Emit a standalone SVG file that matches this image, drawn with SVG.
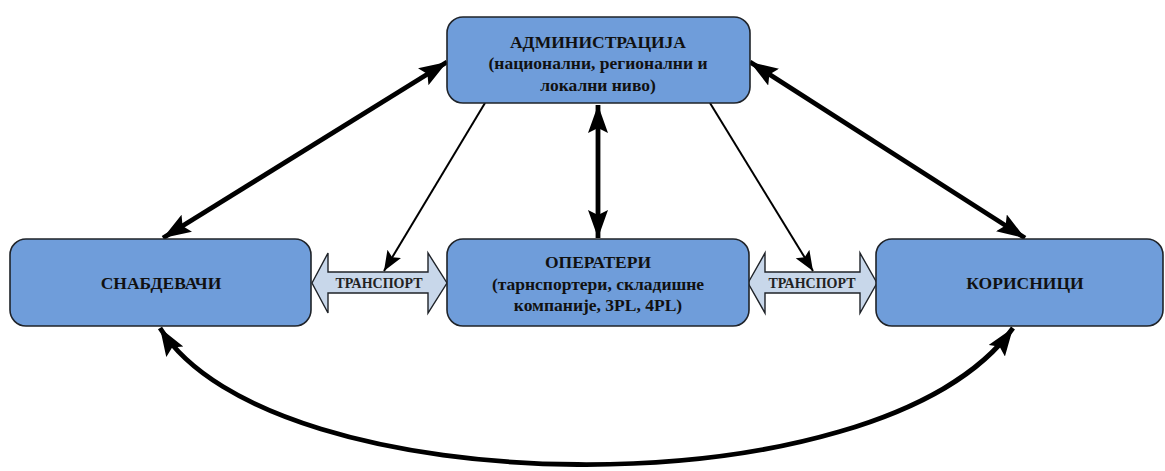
<svg xmlns="http://www.w3.org/2000/svg" width="1165" height="471" viewBox="0 0 1165 471">
  <style>
    .box { fill: #6f9dda; stroke: #1f2329; stroke-width: 1.6; }
    .lbl { font-family: "Liberation Serif", "Times New Roman", serif; font-weight: bold; font-size: 17.5px; fill: #111; text-anchor: middle; }
    .tr { fill: #c8d7ea; stroke: #1f2329; stroke-width: 1.4; }
    .trl { font-family: "Liberation Serif", "Times New Roman", serif; font-weight: bold; font-size: 14px; fill: #222; text-anchor: middle; }
    .thick { fill: none; stroke: #000; stroke-width: 4.8; }
    .thin { fill: none; stroke: #000; stroke-width: 2; }
  </style>
  <defs>
    <marker id="headBig" markerUnits="userSpaceOnUse" markerWidth="30" markerHeight="22" refX="28" refY="10" orient="auto-start-reverse" viewBox="0 0 30 22">
      <path d="M0,0 L28,10 L0,20 L5,10 Z" fill="#000"/>
    </marker>
    <marker id="headSmall" markerUnits="userSpaceOnUse" markerWidth="22" markerHeight="18" refX="20" refY="8" orient="auto" viewBox="0 0 22 18">
      <path d="M0,0 L20,8 L0,16 L4,8 Z" fill="#000"/>
    </marker>
  </defs>

  <!-- transport links (block double arrows) -->
  <g id="transport-left">
    <path class="tr" d="M312,283 L328,253 L328,272 L428,272 L428,253 L447,283 L428,313 L428,293 L328,293 L328,313 Z"/>
    <text class="trl" x="379" y="287.5">ТРАНСПОРТ</text>
  </g>
  <g id="transport-right">
    <path class="tr" d="M748,283 L765,253 L765,272 L860,272 L860,253 L877,283 L860,313 L860,293 L765,293 L765,313 Z"/>
    <text class="trl" x="812" y="287.5">ТРАНСПОРТ</text>
  </g>

  <!-- connectors -->
  <g id="connectors">
    <line class="thick" x1="447" y1="62" x2="163" y2="238" marker-start="url(#headBig)" marker-end="url(#headBig)"/>
    <line class="thick" x1="750" y1="62" x2="1025" y2="238" marker-start="url(#headBig)" marker-end="url(#headBig)"/>
    <line class="thick" x1="598" y1="105" x2="598" y2="238" marker-start="url(#headBig)" marker-end="url(#headBig)"/>
    <line class="thin" x1="485" y1="103" x2="384" y2="271" marker-end="url(#headSmall)"/>
    <line class="thin" x1="710" y1="103" x2="813" y2="271" marker-end="url(#headSmall)"/>
    <path class="thick" d="M160,328 C270,505 880,515 1013,328" marker-start="url(#headBig)" marker-end="url(#headBig)"/>
  </g>

  <g id="administracija">
    <rect class="box" x="447" y="17" width="303" height="86" rx="16"/>
    <text class="lbl" x="598" y="48">АДМИНИСТРАЦИЈА</text>
    <text class="lbl" x="598" y="69">(национални, регионални и</text>
    <text class="lbl" x="598" y="91">локални ниво)</text>
  </g>

  <g id="snabdevaci">
    <rect class="box" x="10" y="239" width="301" height="87" rx="16"/>
    <text class="lbl" x="161" y="289">СНАБДЕВАЧИ</text>
  </g>

  <g id="operateri">
    <rect class="box" x="447" y="239" width="302" height="87" rx="16"/>
    <text class="lbl" x="598" y="268">ОПЕРАТЕРИ</text>
    <text class="lbl" x="598" y="290">(тарнспортери, складишне</text>
    <text class="lbl" x="598" y="311">компаније, 3PL, 4PL)</text>
  </g>

  <g id="korisnici">
    <rect class="box" x="876" y="239" width="287" height="87" rx="16"/>
    <text class="lbl" x="1025" y="289">КОРИСНИЦИ</text>
  </g>
</svg>
